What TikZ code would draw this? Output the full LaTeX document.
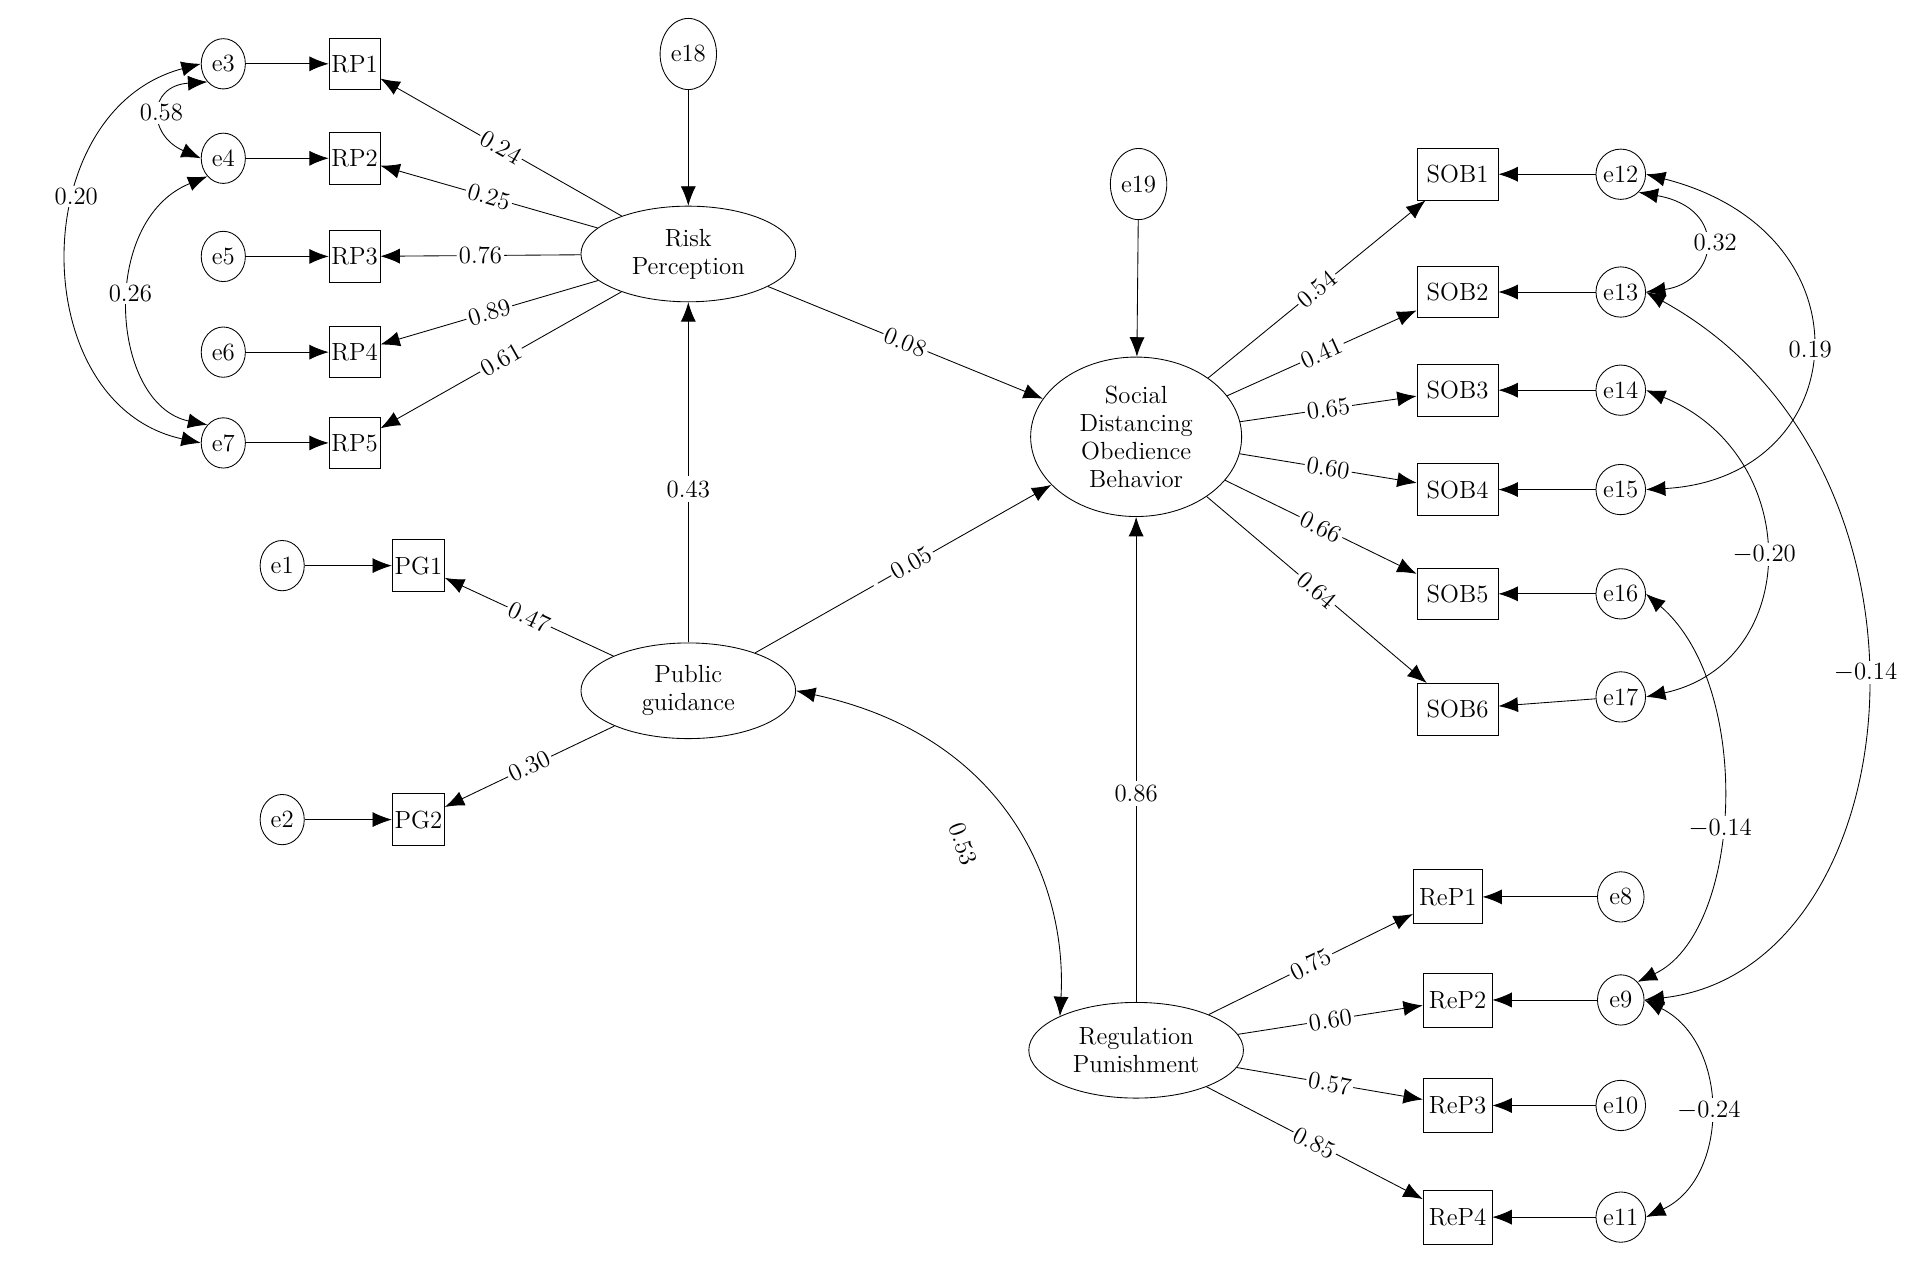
\documentclass[tikz,border=0pt]{standalone}
\usetikzlibrary{arrows.meta,shapes.geometric}
\begin{document}
\begin{tikzpicture}[x=0.02cm,y=-0.02cm,
 font=\fontsize{11.5}{13}\selectfont,
 err/.style={ellipse,draw,minimum width=0.72cm,minimum height=0.82cm,inner sep=0pt},
 box/.style={rectangle,draw,minimum height=0.84cm,inner sep=1pt},
 lat/.style={ellipse,draw,minimum width=3.5cm,minimum height=1.56cm,align=center,inner sep=0pt},
 ar/.style={-{Latex[length=9pt,width=7pt]}},
 dar/.style={{Latex[length=9pt,width=7pt]}-{Latex[length=9pt,width=7pt]}},
 lb/.style={midway,sloped,fill=white,inner sep=1pt}]
\useasboundingbox (0,0) rectangle (1560,1029);
% RP block
\foreach \e/\r/\y in {e3/RP1/52,e4/RP2/129,e5/RP3/209,e6/RP4/287,e7/RP5/361}{
 \node[err] (\e) at (182,\y) {\e};
 \node[box,minimum width=0.76cm] (\r) at (289,\y) {\r};
 \draw[ar] (\e) -- (\r);}
\node[err,minimum width=0.92cm,minimum height=1.16cm] (e18) at (561,44) {e18};
\node[lat] (RiskP) at (561,207) {Risk\\Perception};
\draw[ar] (e18) -- (RiskP);
\draw[ar] (RiskP) -- (RP1) node[lb]{0.24};
\draw[ar] (RiskP) -- (RP2) node[lb]{0.25};
\draw[ar] (RiskP) -- (RP3) node[lb]{0.76};
\draw[ar] (RiskP) -- (RP4) node[lb]{0.89};
\draw[ar] (RiskP) -- (RP5) node[lb]{0.61};
\draw[dar] (e3.west) .. controls (20,90) and (20,330) .. (e7.west) node[pos=0.38,fill=white,inner sep=1pt]{0.20};
\draw[dar] (e3.south west) .. controls (120,70) and (120,110) .. (e4.west) node[pos=0.5,fill=white,inner sep=1pt]{0.58};
\draw[dar] (e4.south west) .. controls (80,180) and (90,330) .. (e7.north west) node[pos=0.45,fill=white,inner sep=1pt]{0.26};
% PG
\node[err] (e1) at (230,461) {e1};
\node[box,minimum width=0.76cm] (PG1) at (341,461) {PG1};
\node[err] (e2) at (230,668) {e2};
\node[box,minimum width=0.76cm] (PG2) at (341,668) {PG2};
\draw[ar] (e1) -- (PG1); \draw[ar] (e2) -- (PG2);
\node[lat] (PubG) at (561,563) {Public\\guidance};
\draw[ar] (PubG) -- (PG1) node[lb]{0.47};
\draw[ar] (PubG) -- (PG2) node[lb]{0.30};
\draw[ar] (PubG) -- (RiskP) node[pos=0.45,fill=white,inner sep=2pt]{0.43};
% SDOB
\node[err,minimum width=0.92cm,minimum height=1.16cm] (e19) at (928,150) {e19};
\node[lat,minimum width=3.44cm,minimum height=2.6cm] (SDOB) at (926,356) {Social\\Distancing\\Obedience\\Behavior};
\draw[ar] (e19) -- (SDOB);
\draw[ar] (RiskP) -- (SDOB) node[lb]{0.08};
\draw[ar] (PubG) -- (SDOB) node[lb]{$-$0.05};
\foreach \i/\y/\v in {1/142/0.54,2/238/0.41,3/318/0.65,4/399/0.60,5/484/0.66,6/578/0.64}{
 \node[box,minimum width=1.32cm] (SOB\i) at (1188,\y) {SOB\i};
 \draw[ar] (SDOB) -- (SOB\i) node[lb]{\v};}
\foreach \n/\y in {12/142,13/238,14/318,15/399,16/484,17/568}{
 \node[err,minimum width=0.76cm] (e\n) at (1321,\y) {e\n};}
\foreach \n/\i in {12/1,13/2,14/3,15/4,16/5,17/6}{\draw[ar] (e\n) -- (SOB\i);}
% RegP
\node[lat] (RegP) at (926,856) {Regulation\\Punishment};
\draw[ar] (RegP) -- (SDOB) node[pos=0.43,fill=white,inner sep=2pt]{0.86};
\draw[dar] (PubG.east) .. controls (820,600) and (870,720) .. (RegP.north west);
\node[rotate=-70] at (785,688) {0.53};
\node[box,minimum width=1.12cm,minimum height=0.88cm] (ReP1) at (1180,731) {ReP1};
\foreach \i/\y in {2/815,3/901,4/992}{\node[box,minimum width=1.12cm,minimum height=0.88cm] (ReP\i) at (1188,\y) {ReP\i};}
\draw[ar] (RegP) -- (ReP1) node[lb]{0.75};
\draw[ar] (RegP) -- (ReP2) node[lb]{0.60};
\draw[ar] (RegP) -- (ReP3) node[lb]{0.57};
\draw[ar] (RegP) -- (ReP4) node[lb]{0.85};
\foreach \n/\y/\i in {8/731/1,9/815/2,10/901/3,11/992/4}{
 \node[err,minimum width=0.76cm] (e\n) at (1321,\y) {e\n};
 \draw[ar] (e\n) -- (ReP\i);}
% correlations right
\draw[dar] (e12.south east) .. controls (1410,170) and (1400,230) .. (e13.east);
\node[fill=white,inner sep=1pt] at (1398,198) {0.32};
\draw[dar] (e12.east) .. controls (1530,190) and (1510,390) .. (e15.east) node[pos=0.5,fill=white,inner sep=1pt]{0.19};
\draw[dar] (e13.east) .. controls (1600,380) and (1560,790) .. (e9.east) node[pos=0.47,fill=white,inner sep=1pt]{$-$0.14};
\draw[dar] (e14.east) .. controls (1470,370) and (1470,540) .. (e17.east) node[pos=0.5,fill=white,inner sep=1pt]{$-$0.20};
\draw[dar] (e16.east) .. controls (1430,560) and (1420,760) .. (e9.north east) node[pos=0.55,fill=white,inner sep=1pt]{$-$0.14};
\draw[dar] (e9.east) .. controls (1410,850) and (1410,960) .. (e11.east) node[pos=0.5,fill=white,inner sep=1pt]{$-$0.24};
\end{tikzpicture}
\end{document}
